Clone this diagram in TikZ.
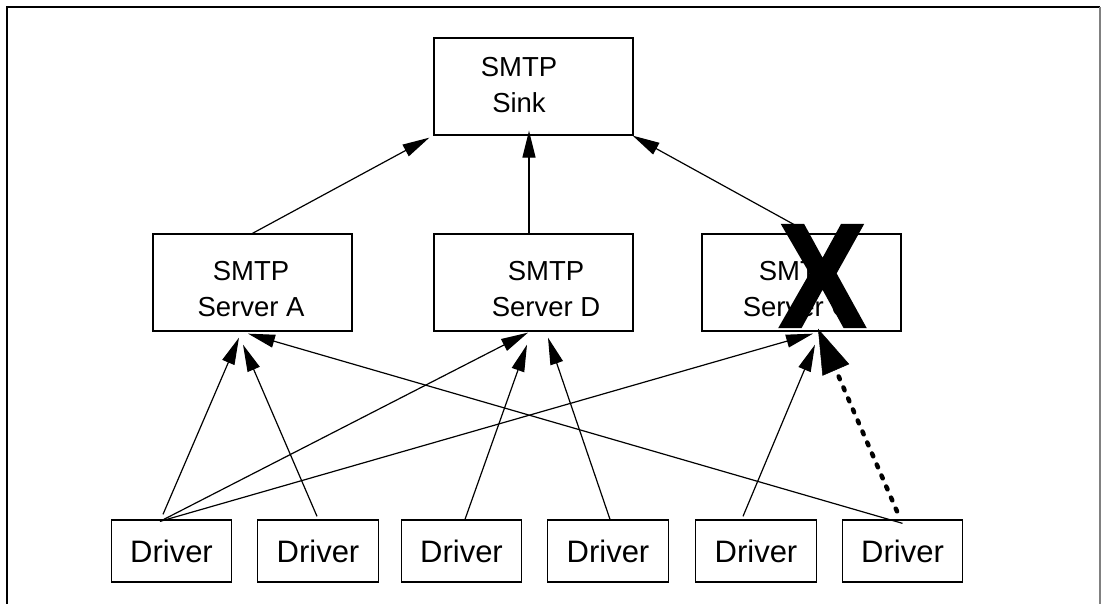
\documentclass[tikz,border=0pt]{standalone}
\usepackage{fontspec}
\setmainfont{Liberation Sans}
\newfontfamily\crossfont[FakeBold=2.6]{Liberation Sans Bold}
\usetikzlibrary{arrows.meta}
\begin{document}
\begin{tikzpicture}[x=1pt,y=-1pt,
  box/.style={draw, line width=1.3pt, inner sep=0pt, minimum width=199pt, minimum height=97pt},
  drv/.style={draw, line width=1.3pt, inner sep=0pt, minimum width=120.5pt, minimum height=62pt,
              font=\fontsize{31}{36}\selectfont},
  lbl/.style={align=center, inner sep=0pt, font=\fontsize{27.5}{36}\selectfont},
  link/.style={line width=1.2pt, -{Triangle[length=27pt,width=13pt]}},
  failed/.style={line width=4.5pt, dash pattern=on 3pt off 9pt, line cap=round,
                 -{Triangle[length=45pt,width=29pt,line width=0.5pt]}},
]
\useasboundingbox (0,0) rectangle (1101,604);

% frame
\draw[line width=2pt] (7,604) -- (7,7) -- (1100,7);
\draw[gray, line width=2pt] (1100,7) -- (1100,604);

% sink and servers
\node[box] (sink) at (533.5,86.5) {};
\node[lbl] (sinkT) at (519,85) {SMTP\\Sink};
\node[box] (srvA) at (252.5,282.5) {};
\node[lbl] (srvAT) at (251,289) {SMTP\\Server A};
\node[box] (srvD) at (533.5,282.5) {};
\node[lbl] (srvDT) at (546,289) {SMTP\\Server D};
\node[box] (srvC) at (801.5,282.5) {};
\node[lbl] (srvCT) at (797,289) {SMTP\\Server C};

% drivers
\node[drv] (d1) at (171.5,551) {Driver};
\node[drv] (d2) at (318,551) {Driver};
\node[drv] (d3) at (461.5,551) {Driver};
\node[drv] (d4) at (608,551) {Driver};
\node[drv] (d5) at (756,551) {Driver};
\node[drv] (d6) at (902.5,551) {Driver};

% servers to sink
\draw[link] (srvA.north) -- ([shift={(-4,2)}]sink.south west);
\draw[link] ([shift={(-4.5,0)}]srvD.north) -- ([shift={(-4.5,-5)}]sink.south);
\draw[link] ([shift={(-6,-8)}]srvC.north) -- ([shift={(-1,0)}]sink.south east);

% drivers to servers
\draw[link] ([shift={(-8.5,-5)}]d1.north) -- ([shift={(-13.5,6)}]srvA.south);
\draw[link] ([shift={(-11.5,2)}]d1.north) -- ([shift={(-5.5,1)}]srvD.south);
\draw[link] ([shift={(-11.5,2)}]d1.north) -- ([shift={(11.5,2)}]srvC.south);
\draw[link] ([shift={(-1,-3)}]d2.north) -- ([shift={(-9.5,13)}]srvA.south);
\draw[link] ([shift={(3.5,0)}]d3.north) -- ([shift={(-6.5,13)}]srvD.south);
\draw[link] ([shift={(2,0)}]d4.north) -- ([shift={(14.5,6)}]srvD.south);
\draw[link] ([shift={(-13,-3)}]d5.north) -- ([shift={(13.5,13)}]srvC.south);
\draw[link] ([shift={(0,4)}]d6.north) -- ([shift={(-4.5,2)}]srvA.south);
\draw[failed] ([shift={(-5.5,-8)}]d6.north) -- ([shift={(16.5,-3)}]srvC.south);

% failure mark
\node[inner sep=0pt, font=\fontsize{146}{146}\selectfont\crossfont] (cross) at (822.5,276)
  {\scalebox{0.87}[1]{X}};
\end{tikzpicture}
\end{document}
